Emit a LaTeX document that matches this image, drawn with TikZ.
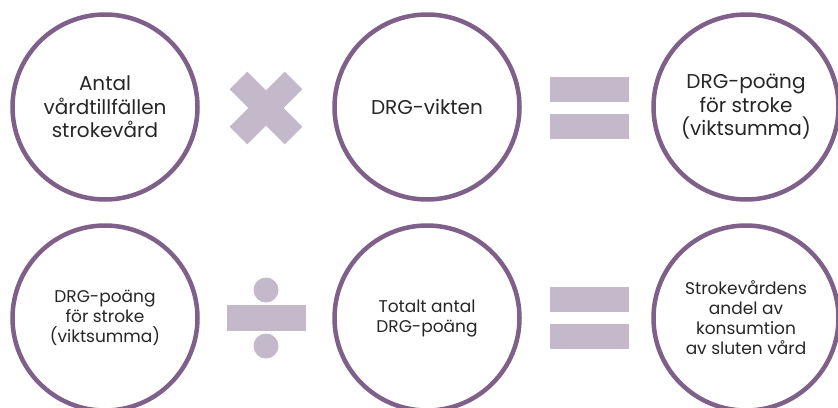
\documentclass[tikz,border=0pt]{standalone}
\usepackage{fontspec}
\setmainfont{Poppins}
\definecolor{ringcol}{HTML}{7E6088}
\definecolor{opcol}{HTML}{C4B8CB}
\definecolor{txtcol}{HTML}{262626}
\begin{document}
\begin{tikzpicture}[x=1pt,y=-1pt,
  ring/.style={circle,draw=ringcol,line width=4.5pt,minimum size=185pt,inner sep=0pt,
    align=center,text=txtcol},
  bigtxt/.style={font=\fontsize{20}{23.5}\selectfont},
  smalltxt/.style={font=\fontsize{17}{20}\selectfont},
  opbar/.style={fill=opcol,draw=none}]
\useasboundingbox (0,0) rectangle (838,407);
\clip (0,0) rectangle (838,407);

% top row: count x weight = points
\node[ring,bigtxt] (antal) at (105,107) {Antal\\vårdtillfällen\\strokevård};
\node[ring,bigtxt] (vikt) at (427,107) {DRG-vikten};
\node[ring,bigtxt] (poang) at (746,107) {DRG-poäng\\för stroke\\(viktsumma)};

% bottom row: points / total = share
\node[ring,smalltxt] (poang2) at (105,318) {DRG-poäng\\för stroke\\(viktsumma)};
\node[ring,smalltxt] (total) at (427,318) {Totalt antal\\DRG-poäng};
\node[ring,smalltxt] (andel) at (746,318) {Strokevårdens\\andel av\\konsumtion\\av sluten vård};

% multiplication sign
\draw[opcol,line width=25pt] (238.4,80.4) -- (293.6,135.6);
\draw[opcol,line width=25pt] (293.6,80.4) -- (238.4,135.6);

% equals signs
\fill[opbar] (550,77) rectangle (629,102);
\fill[opbar] (550,114) rectangle (629,139);
\fill[opbar] (550,287) rectangle (629,312);
\fill[opbar] (550,324) rectangle (629,349);

% division sign
\fill[opbar] (227,305) rectangle (306,331);
\fill[opbar] (266,290) circle (12.5);
\fill[opbar] (266,346) circle (12.5);
\end{tikzpicture}
\end{document}
